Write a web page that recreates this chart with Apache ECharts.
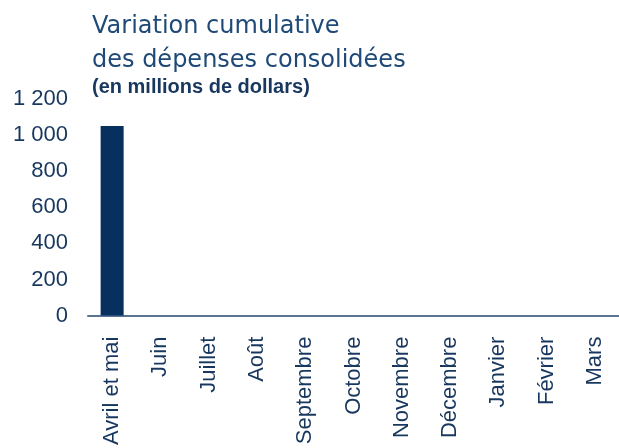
<!DOCTYPE html>
<html><head><meta charset="utf-8">
<script src="https://cdn.jsdelivr.net/npm/echarts@6/dist/echarts.min.js"></script>
<style>html,body{margin:0;padding:0;background:#fff}#c{width:619px;height:448px}</style>
</head><body><div id="c"></div>
<script>
const categories = ["Avril et mai","Juin","Juillet","Août","Septembre","Octobre","Novembre","Décembre","Janvier","Février","Mars"];
const values = [1050, null, null, null, null, null, null, null, null, null, null];
const yTicks = [0, 200, 400, 600, 800, 1000, 1200];

const chart = echarts.init(document.getElementById('c'));
chart.setOption({
  animation: false,
  title: [
    { text: "Variation cumulative\ndes dépenses consolidées", left: 92, top: 10, padding: 0,
      textStyle: { fontFamily: "DejaVu Sans", fontSize: 24, fontWeight: 'normal', color: '#1f4a78', lineHeight: 34 } },
    { text: "(en millions de dollars)", left: 92, top: 76, padding: 0,
      textStyle: { fontFamily: "Liberation Sans", fontSize: 20, fontWeight: 'bold', color: '#17375e', lineHeight: 22 } }
  ],
  grid: { left: 88, right: 0, top: 99, bottom: 130, containLabel: false },
  xAxis: {
    type: 'category', data: categories,
    axisLine: { lineStyle: { color: '#5b7493', width: 2 } },
    axisTick: { show: false },
    axisLabel: { rotate: 90, interval: 0, margin: 21, color: '#17375e', fontFamily: "Liberation Sans", fontSize: 22 }
  },
  yAxis: {
    type: 'value', min: yTicks[0], max: yTicks[yTicks.length-1], interval: 200,
    splitLine: { show: false }, axisLine: { show: false }, axisTick: { show: false },
    axisLabel: { margin: 20, color: '#17375e', fontFamily: "Liberation Sans", fontSize: 22,
      formatter: v => String(v).replace(/\B(?=(\d{3})+(?!\d))/g, ' ') }
  },
  series: [{ type: 'bar', data: values, barWidth: 23, itemStyle: { color: '#08305e' } }]
});
</script></body></html>
